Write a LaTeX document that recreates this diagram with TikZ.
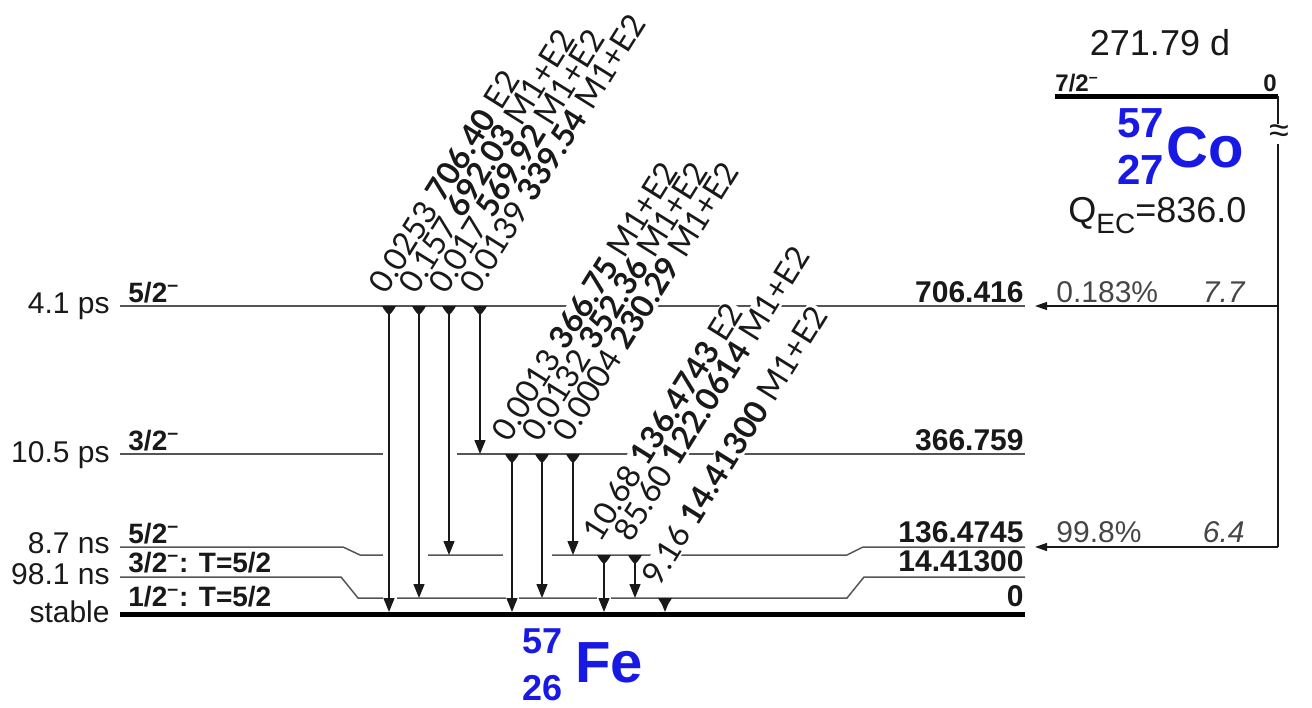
\documentclass[tikz,border=0pt]{standalone}
\usepackage{fontspec}
\setmainfont{Liberation Sans}
\newfontfamily\lblfont{Lato}
\usetikzlibrary{arrows.meta}
\definecolor{nucblue}{RGB}{25,25,230}
\definecolor{lvl}{RGB}{85,85,85}
\definecolor{txt}{RGB}{25,25,25}
\definecolor{feedtxt}{RGB}{70,70,70}
\newcommand{\fs}[1]{\fontsize{#1}{#1}\selectfont}
\newcommand{\mn}{\textsuperscript{\textendash}}
\begin{document}
\begin{tikzpicture}[x=0.5pt,y=-0.5pt,
  level/.style={draw=lvl, line width=0.75pt},
  gnd/.style={draw=black, line width=2.5pt},
  gapseg/.style={draw=white, line width=2.2pt},
  gam/.style={draw=txt, line width=0.65pt, -{Triangle[length=7pt,width=5.5pt]}},
  feed/.style={draw=txt, line width=0.65pt, -{Triangle[length=6pt,width=4pt]}},
  feedline/.style={draw=txt, line width=0.65pt},
  glabel/.style={anchor=south west, rotate=58, font=\lblfont\fs{16}, fill=white, inner sep=0.6pt, text=txt},
  hl/.style={anchor=base east, font=\fs{15}, text=txt, inner sep=0pt},
  spin/.style={anchor=base west, font=\bfseries\fs{14}, text=txt, inner sep=0pt},
  en/.style={anchor=base east, font=\bfseries\fs{15}, text=txt, inner sep=0pt},
  ftxt/.style={font=\fs{15}, text=feedtxt, inner sep=0pt},
  nuc/.style={font=\bfseries\fs{29}, text=nucblue, inner sep=0pt, anchor=base west},
  smark/.pic={\fill[txt] (-7,0) -- (7,0) .. controls (5,4) and (1.5,8) .. (0,9) .. controls (-1.5,8) and (-5,4) .. (-7,0) -- cycle;}
]
\useasboundingbox (0,0) rectangle (1312,707);

% ---------- levels of 57Fe ----------
\draw[level] (120,306) -- (1025,306);
\draw[level] (120,454) -- (1025,454);
\draw[level] (120,547) -- (343,547) -- (360,555) -- (847,555) -- (863,547) -- (1025,547);
\draw[level] (120,577) -- (341,577) -- (358,598) -- (847,598) -- (864,577) -- (1025,577);
\draw[gnd] (120,614) -- (1025,614);

% gaps where transitions pass
\draw[gapseg] (383,454) -- (457,454);
\draw[gapseg] (383,555) -- (428,555);
\draw[gapseg] (503,555) -- (552,555);
\draw[gapseg] (383,598) -- (397,598);
\draw[gapseg] (506,598) -- (519,598);
\draw[gapseg] (597,598) -- (611,598);

% ---------- transition labels ----------
\node[glabel] (l1) at (387,298) {0.0253 \textbf{706.40} E2};
\node[glabel] (l2) at (417,298) {0.157 \textbf{692.03} M1+E2};
\node[glabel] (l3) at (447,298) {0.017 \textbf{569.92} M1+E2};
\node[glabel] (l4) at (478,298) {0.0139 \textbf{339.54} M1+E2};
\node[glabel] (l5) at (510,446) {0.0013 \textbf{366.75} M1+E2};
\node[glabel] (l6) at (540,446) {0.0132 \textbf{352.36} M1+E2};
\node[glabel] (l7) at (571,446) {0.0004 \textbf{230.29} M1+E2};
\node[glabel] (l8) at (601,546) {10.68 \textbf{136.4743} E2};
\node[glabel] (l9) at (632,546) {85.60 \textbf{122.0614} M1+E2};
\node[glabel] (l10) at (660,590) {9.16 \textbf{14.41300} M1+E2};

% ---------- transitions ----------
\coordinate (s1) at (389,306);  \coordinate (e1) at (389,612);
\coordinate (s2) at (419,306);  \coordinate (e2) at (419,598);
\coordinate (s3) at (449,306);  \coordinate (e3) at (449,555);
\coordinate (s4) at (480,306);  \coordinate (e4) at (480,454);
\coordinate (s5) at (512,454);  \coordinate (e5) at (512,612);
\coordinate (s6) at (542,454);  \coordinate (e6) at (542,598);
\coordinate (s7) at (573,454);  \coordinate (e7) at (573,555);
\coordinate (s8) at (604,555);  \coordinate (e8) at (604,612);
\coordinate (s9) at (635,555);  \coordinate (e9) at (635,598);
\coordinate (s10) at (665,598); \coordinate (e10) at (665,612);
\foreach \i in {1,...,10}{
  \draw[gam] (s\i) -- (e\i);
  \pic at (s\i) {smark};
}

% ---------- level texts ----------
\node[hl] (h1) at (110,313) {4.1 ps};
\node[hl] (h2) at (110,462) {10.5 ps};
\node[hl] (h3) at (110,553) {8.7 ns};
\node[hl] (h4) at (110,584) {98.1 ns};
\node[hl] (h5) at (110,622) {stable};

\node[spin] (j1) at (128,302) {5/2\mn};
\node[spin] (j2) at (128,450) {3/2\mn};
\node[spin] (j3) at (128,543) {5/2\mn};
\node[spin] (j4) at (128,572) {3/2\mn: T=5/2};
\node[spin] (j5) at (128,606) {1/2\mn: T=5/2};

\node[en] (E1) at (1024,302) {706.416};
\node[en] (E2) at (1024,450) {366.759};
\node[en] (E3) at (1024,542) {136.4745};
\node[en] (E4) at (1024,571) {14.41300};
\node[en] (E5) at (1024,606) {0};

% ---------- parent 57Co ----------
\node[font=\fs{18}, text=txt, anchor=base, inner sep=0pt] (thalf) at (1160,55) {271.79 d};
\draw[gnd] (1055,96) -- (1278,96);
\node[font=\bfseries\fs{12}, text=txt, anchor=base west, inner sep=0pt] (pj) at (1055,91) {7/2\mn};
\node[font=\bfseries\fs{12}, text=txt, anchor=base east, inner sep=0pt] (pe) at (1277,91) {0};

\coordinate (coR) at (1278,96);
\coordinate (fv1) at (1278,306);
\coordinate (fv2) at (1278,547);
\coordinate (t706) at (1035,306);
\coordinate (t136) at (1035,547);
\draw[feedline] (coR) -- (fv2);
\draw[feed] (fv1) -- (t706);
\draw[feed] (fv2) -- (t136);
\node[font=\fs{18}, text=txt, fill=white, inner sep=0.5pt] (brk) at (1279,134) {≈};

\node[nuc, font=\bfseries\fs{21}] (coA) at (1117,137) {57};
\node[nuc, font=\bfseries\fs{21}] (coZ) at (1117,184) {27};
\node[nuc] (co) at (1166,167) {Co};
\node[font=\fs{18}, text=txt, anchor=base west, inner sep=0pt] (qec) at (1068,222) {Q\raisebox{-0.32em}{\fs{14}EC}=836.0};

\node[ftxt, anchor=base west] (b1) at (1056,302) {0.183\%};
\node[ftxt, anchor=base east] (lf1) at (1245,302) {\itshape 7.7};
\node[ftxt, anchor=base west] (b2) at (1056,542) {99.8\%};
\node[ftxt, anchor=base east] (lf2) at (1245,542) {\itshape 6.4};

% ---------- daughter 57Fe ----------
\node[nuc, font=\bfseries\fs{18}] (feA) at (522,653) {57};
\node[nuc, font=\bfseries\fs{18}] (feZ) at (522,700) {26};
\node[nuc] (fe) at (575,682) {Fe};
\end{tikzpicture}
\end{document}
